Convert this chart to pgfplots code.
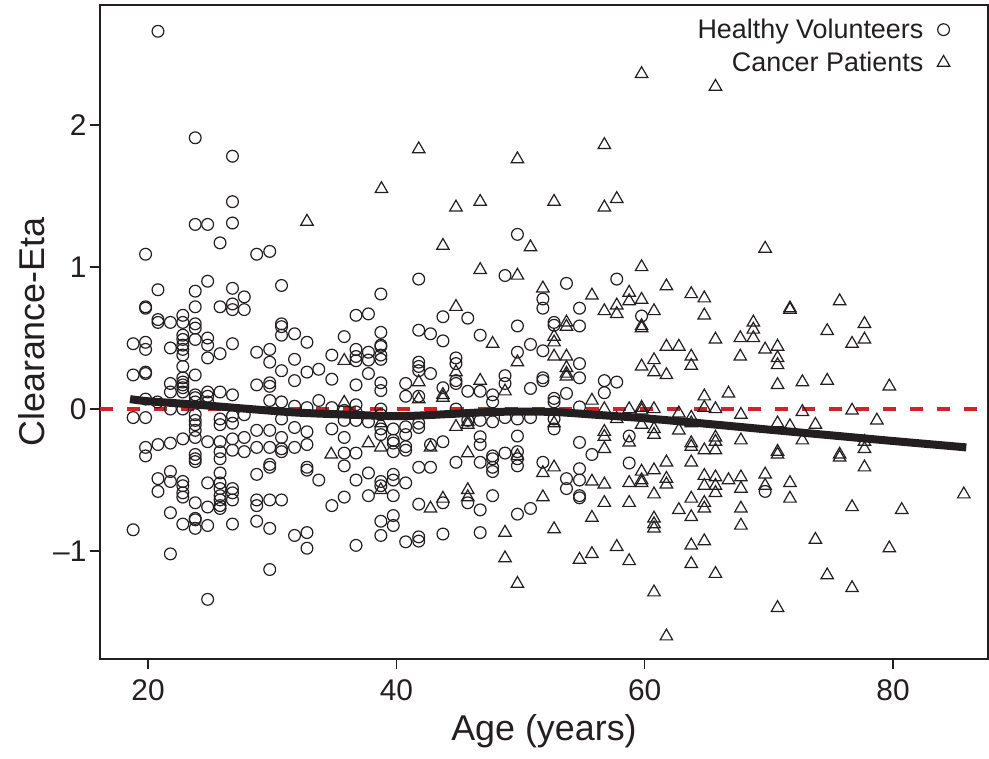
\documentclass[border=0pt]{standalone}
\usepackage{fontspec}
\setmainfont{Liberation Sans}
\usepackage{pgfplots}
\pgfplotsset{compat=1.18}
\definecolor{ink}{RGB}{35,31,32}
\definecolor{rline}{RGB}{210,35,42}
\begin{document}
\begin{tikzpicture}
\begin{axis}[
  scale only axis, width=888bp, height=654bp,
  xmin=16.13, xmax=87.65, ymin=-1.76, ymax=2.845,
  axis line style={line width=1.2bp, draw=ink},
  xtick={20,40,60,80}, xticklabels={20,40,60,80},
  ytick={-1,0,1,2}, yticklabels={\textendash1,0,1,2},
  xtick pos=bottom, ytick pos=left,
  tick align=outside, major tick length=10bp,
  tick style={line width=1.2bp, draw=ink},
  ticklabel style={font=\fontsize{30}{36}\selectfont, text=ink},
  xticklabel style={yshift=-7bp},
  xlabel={Age (years)}, ylabel={Clearance-Eta},
  label style={font=\fontsize{36}{42}\selectfont, text=ink},
  xlabel style={at={(axis description cs:0.5,-0.11)}, anchor=center},
  ylabel style={at={(axis description cs:-0.077,0.5)}, anchor=center},
  legend plot pos=right, legend cell align=right,
  legend image code/.code={\draw[#1] plot coordinates {(0bp,0bp)};},
  legend style={at={(axis description cs:1,1)}, anchor=north east, xshift=-38bp, yshift=-12bp,
    draw=none, fill=none, inner sep=0pt, font=\fontsize{27}{31}\selectfont, text=ink,
    row sep=8bp, /tikz/every odd column/.append style={column sep=12bp}},
]
\coordinate (bbsw) at (rel axis cs:0,0);
\addplot[only marks, mark=o, mark size=5.9bp, mark options={line width=1.2bp, draw=ink}] coordinates {
(20.8,2.66)(23.8,1.91)(26.8,1.78)(26.8,1.46)(23.8,1.30)(24.8,1.30)(26.8,1.31)(25.8,1.17)(19.8,1.09)(28.75,1.09)(29.8,1.11)
(49.75,1.23)(69.7,-0.58)
(24.8,0.90)(20.8,0.84)(23.8,0.83)(26.8,0.85)(27.75,0.79)(19.8,0.72)(19.8,0.71)(23.8,0.72)(25.8,0.72)(26.8,0.74)(26.8,0.70)(27.75,0.70)
(20.8,0.63)(20.8,0.61)(21.8,0.61)(22.8,0.66)(22.8,0.61)(23.8,0.60)(23.8,0.57)(22.8,0.52)(22.8,0.49)(22.8,0.45)(22.8,0.42)(22.8,0.38)
(23.8,0.49)(24.8,0.50)(24.8,0.45)(18.8,0.46)(19.8,0.47)(19.8,0.42)(21.8,0.43)(25.8,0.39)(24.8,0.36)(26.8,0.46)(22.8,0.30)
(18.8,0.24)(19.8,0.26)(19.8,0.25)(23.8,0.24)(21.8,0.18)(21.8,0.12)(22.8,0.22)(22.8,0.19)(22.8,0.17)(22.8,0.15)(22.8,0.12)
(23.8,0.10)(23.8,0.08)(23.8,0.05)(24.8,0.12)(24.8,0.09)(24.8,0.05)(25.8,0.12)(26.8,0.10)(19.8,0.07)(20.75,0.05)(21.8,0.0)(22.8,0.0)
(18.8,-0.06)(19.8,-0.06)(23.8,-0.04)(23.8,-0.08)(23.8,-0.11)(23.8,-0.15)(25.8,-0.07)(25.8,-0.11)(26.8,-0.05)(26.8,-0.10)(27.75,-0.04)
(19.8,-0.27)(20.8,-0.25)(21.8,-0.24)(22.8,-0.21)(23.8,-0.20)(24.8,-0.23)(25.8,-0.23)(26.8,-0.21)(27.75,-0.20)
(19.8,-0.33)(23.8,-0.32)(25.8,-0.30)(26.8,-0.29)(27.75,-0.30)
(23.8,-0.35)(23.8,-0.37)(25.8,-0.35)(21.8,-0.44)(20.8,-0.49)(21.8,-0.51)(20.8,-0.58)(22.8,-0.51)(22.8,-0.54)(22.8,-0.59)(22.8,-0.62)
(24.8,-0.52)(25.8,-0.45)(25.8,-0.52)(25.8,-0.56)(25.8,-0.61)(25.8,-0.64)(25.8,-0.68)(25.8,-0.70)(26.8,-0.56)(26.8,-0.59)(26.8,-0.64)
(23.8,-0.66)(24.8,-0.69)(21.8,-0.73)(22.8,-0.81)(23.8,-0.77)(23.8,-0.78)(23.8,-0.84)(24.8,-0.82)(26.8,-0.81)(18.8,-0.85)(21.8,-1.02)(24.8,-1.34)
(30.75,0.87)(38.75,0.81)(36.75,0.66)(37.75,0.67)(30.75,0.60)(30.75,0.58)(30.75,0.52)(31.8,0.53)(32.8,0.47)(35.8,0.51)(38.75,0.54)
(38.75,0.45)(38.75,0.44)(28.75,0.40)(29.8,0.42)(34.8,0.38)(36.75,0.42)(36.75,0.37)(36.75,0.34)(37.75,0.40)(37.75,0.345)(38.75,0.38)
(38.75,0.35)(29.8,0.33)(31.8,0.35)(30.75,0.27)(32.8,0.26)(33.75,0.28)(37.75,0.25)(34.8,0.21)(31.8,0.20)(28.75,0.17)(29.8,0.185)
(29.8,0.16)(36.75,0.17)(38.75,0.185)(38.75,0.13)(29.8,0.06)(30.75,0.05)(33.75,0.06)(31.8,0.02)(32.8,0.01)(34.8,0.01)(35.8,-0.01)
(36.75,0.03)(36.75,-0.02)(38.75,0.0)(38.75,-0.04)(35.8,-0.08)(36.75,-0.08)(37.75,-0.09)(30.75,-0.07)(28.75,-0.15)(29.8,-0.15)
(31.8,-0.13)(32.8,-0.16)(34.8,-0.14)(38.75,-0.14)(38.75,-0.18)(39.75,-0.14)(39.75,-0.22)(30.75,-0.20)(35.8,-0.20)(28.75,-0.27)
(29.8,-0.27)(30.75,-0.28)(30.75,-0.30)(31.8,-0.27)(32.8,-0.25)(39.75,-0.24)(39.75,-0.30)(35.8,-0.31)(36.75,-0.31)
(29.8,-0.39)(29.8,-0.41)(32.8,-0.41)(32.8,-0.43)(35.8,-0.40)(28.75,-0.46)(33.75,-0.50)(36.75,-0.50)(37.75,-0.45)(38.75,-0.51)
(38.75,-0.54)(39.75,-0.46)(39.75,-0.50)(28.75,-0.64)(28.75,-0.68)(29.8,-0.64)(30.75,-0.64)(34.8,-0.68)(35.8,-0.62)(37.75,-0.61)
(39.75,-0.61)(28.75,-0.79)(29.8,-0.84)(31.8,-0.89)(32.8,-0.87)(32.8,-0.98)(36.75,-0.96)(38.75,-0.79)(38.75,-0.89)(39.75,-0.75)
(39.75,-0.82)(29.8,-1.13)
(48.75,0.94)(41.8,0.915)(51.8,0.775)(51.8,0.71)(43.75,0.65)(45.75,0.64)(49.75,0.585)(41.8,0.555)(42.75,0.53)(43.75,0.48)(46.75,0.52)
(50.8,0.455)(49.75,0.40)(51.8,0.41)(41.8,0.33)(41.8,0.30)(41.8,0.27)(42.75,0.25)(44.8,0.36)(44.8,0.32)(44.8,0.20)(44.8,0.18)
(40.75,0.18)(48.75,0.235)(48.75,0.18)(51.8,0.22)(51.8,0.20)(40.75,0.09)(41.8,0.09)(43.75,0.15)(45.75,0.125)(46.75,0.125)(47.75,0.10)
(47.75,0.05)(50.8,0.145)(44.8,0.0)(45.75,-0.08)(46.75,-0.08)(47.75,-0.09)(48.75,-0.06)(49.75,-0.07)(50.8,-0.06)(40.75,-0.125)
(40.75,-0.18)(41.8,-0.10)(41.8,-0.13)(46.75,-0.195)(46.75,-0.25)(49.75,-0.19)(43.75,-0.23)(40.75,-0.265)(40.75,-0.29)(42.75,-0.25)
(47.75,-0.33)(48.75,-0.31)(49.75,-0.30)
(41.8,-0.41)(42.75,-0.41)(44.8,-0.375)(46.75,-0.375)(47.75,-0.35)(47.75,-0.41)(47.75,-0.44)(49.75,-0.35)(49.75,-0.40)(51.8,-0.375)
(40.75,-0.52)(43.75,-0.66)(45.75,-0.66)(47.75,-0.61)(41.8,-0.67)(46.75,-0.71)(49.75,-0.74)(50.8,-0.70)(40.75,-0.935)(41.8,-0.90)
(41.8,-0.93)(43.75,-0.88)(46.75,-0.87)
(53.7,0.885)(57.75,0.915)(54.75,0.71)(59.75,0.655)(52.7,0.61)(52.7,0.59)(54.75,0.585)(54.75,0.32)(54.75,0.22)(56.75,0.20)(57.75,0.19)
(53.7,0.11)(56.75,0.115)(52.7,0.075)(52.7,0.05)(54.75,0.015)(52.7,-0.07)(52.7,-0.14)(58.75,-0.19)(54.75,-0.235)(55.75,-0.32)
(54.75,-0.42)(54.75,-0.50)(53.7,-0.49)(53.7,-0.56)(54.75,-0.61)(54.75,-0.625)(58.75,-0.38)
};
\addlegendentry{Healthy Volunteers}
\addplot[only marks, mark=triangle, mark size=7.2bp, mark options={line width=1.2bp, draw=ink}] coordinates {
(38.8,1.55)(32.8,1.32)
(59.75,2.36)(41.8,1.83)(56.75,1.86)(49.75,1.76)(44.8,1.42)(46.75,1.46)(52.7,1.46)(56.75,1.42)(57.75,1.48)(43.75,1.15)(50.8,1.14)
(65.7,2.27)(69.7,1.13)(64.8,0.78)(64.8,0.66)(71.7,0.71)(71.7,0.70)(75.7,0.76)(68.75,0.61)(68.75,0.56)(68.75,0.50)(67.7,0.50)
(65.7,0.49)(74.7,0.55)(77.7,0.60)(77.7,0.49)(76.7,0.46)(67.7,0.37)(69.7,0.42)(70.7,0.44)(70.7,0.36)(70.7,0.31)(70.7,0.17)
(72.7,0.19)(74.7,0.20)(79.7,0.16)(66.75,0.11)(64.8,0.09)
(64.8,0.01)(65.7,0.0)(67.75,-0.04)(72.7,-0.02)(76.7,-0.01)(78.7,-0.08)(70.7,-0.10)(71.7,-0.12)(73.75,-0.11)(65.7,-0.20)(65.7,-0.23)
(67.75,-0.22)(72.7,-0.22)(64.8,-0.29)(65.7,-0.29)(70.7,-0.30)(70.7,-0.32)(75.7,-0.32)(75.7,-0.34)(77.7,-0.23)(77.7,-0.28)(77.7,-0.41)
(64.8,-0.47)(65.7,-0.48)(66.75,-0.50)(67.75,-0.48)(69.7,-0.46)(64.8,-0.54)(65.7,-0.54)(65.7,-0.59)(67.75,-0.56)(69.7,-0.54)
(71.7,-0.52)(71.7,-0.63)(64.8,-0.66)(64.8,-0.70)(67.75,-0.70)(67.75,-0.82)(76.7,-0.69)(80.7,-0.71)(85.7,-0.60)(64.8,-0.93)
(73.75,-0.92)(79.7,-0.98)(65.7,-1.16)(74.7,-1.17)(76.7,-1.26)(70.7,-1.40)
(35.8,0.34)(35.8,0.045)(38.75,-0.10)(37.75,-0.24)(38.75,-0.27)(34.75,-0.32)(38.75,-0.57)
(46.75,0.98)(49.75,0.94)(51.8,0.85)(44.8,0.72)(47.75,0.46)(49.75,0.33)(44.8,0.26)(41.8,0.19)(46.75,0.20)(41.8,0.07)(43.75,0.10)
(43.75,0.08)(48.75,0.125)(45.75,-0.09)(44.8,-0.125)(45.75,-0.11)(42.75,-0.27)(45.75,-0.31)(49.75,-0.33)
(51.8,-0.45)(43.75,-0.63)(42.75,-0.70)(45.75,-0.57)(45.75,-0.62)(51.8,-0.62)(48.75,-0.87)(48.75,-1.05)(49.75,-1.23)
(59.75,1.0)(61.75,0.865)(55.75,0.80)(58.75,0.82)(58.75,0.76)(59.75,0.77)(63.75,0.81)(56.75,0.69)(57.75,0.73)(57.75,0.67)(60.75,0.69)
(59.75,0.585)(59.75,0.57)(53.7,0.61)(53.7,0.58)(52.7,0.51)(52.7,0.47)(61.75,0.44)(62.75,0.44)(52.7,0.37)(53.7,0.37)(60.75,0.345)
(59.75,0.30)(60.75,0.26)(61.75,0.24)(63.75,0.37)(63.75,0.305)(53.7,0.29)(53.7,0.25)(53.7,0.23)(55.75,0.06)(56.75,0.0)(57.75,-0.07)
(58.75,0.0)(59.75,0.01)(59.75,-0.01)(60.75,0.0)(62.75,-0.03)(63.75,-0.06)(63.75,-0.10)(52.7,-0.10)(59.75,-0.11)(60.75,-0.14)
(60.75,-0.18)(62.75,-0.15)(56.75,-0.16)(56.75,-0.195)(58.75,-0.235)(56.75,-0.28)(63.75,-0.24)(63.75,-0.265)
(52.7,-0.41)(59.75,-0.44)(59.75,-0.50)(59.75,-0.52)(60.75,-0.43)(61.75,-0.375)(61.75,-0.49)(61.75,-0.53)(63.75,-0.375)(55.75,-0.51)
(56.75,-0.53)(58.75,-0.52)(60.75,-0.60)(63.75,-0.63)(56.75,-0.66)(58.75,-0.66)(62.75,-0.71)(63.75,-0.76)(55.75,-0.765)(60.75,-0.77)
(60.75,-0.81)(60.75,-0.84)(52.7,-0.845)(57.75,-0.97)(55.75,-1.02)(54.75,-1.06)(58.75,-1.07)(63.75,-0.96)(63.75,-1.09)(60.75,-1.29)
(61.75,-1.60)
};
\addlegendentry{Cancer Patients}
\addplot[rline, line width=3.6bp, dash pattern=on 13bp off 14bp, forget plot] coordinates {(16.13,0) (87.65,0)};
\addplot[ink, line width=8bp, smooth, line cap=butt, forget plot] coordinates {
(18.55,0.07)(20,0.055)(24,0.03)(28.2,0.0)(32,-0.025)(36.3,-0.04)(40.3,-0.05)(44.3,-0.035)(48,-0.02)(52.4,-0.02)(56,-0.04)(60,-0.065)(64.5,-0.10)(70,-0.145)(75,-0.185)(80,-0.225)(85.9,-0.27)};
\end{axis}
\pgfresetboundingbox
\path[use as bounding box] ([shift={(-100bp,-100bp)}]bbsw) rectangle ([shift={(889bp,659bp)}]bbsw);
\end{tikzpicture}
\end{document}
